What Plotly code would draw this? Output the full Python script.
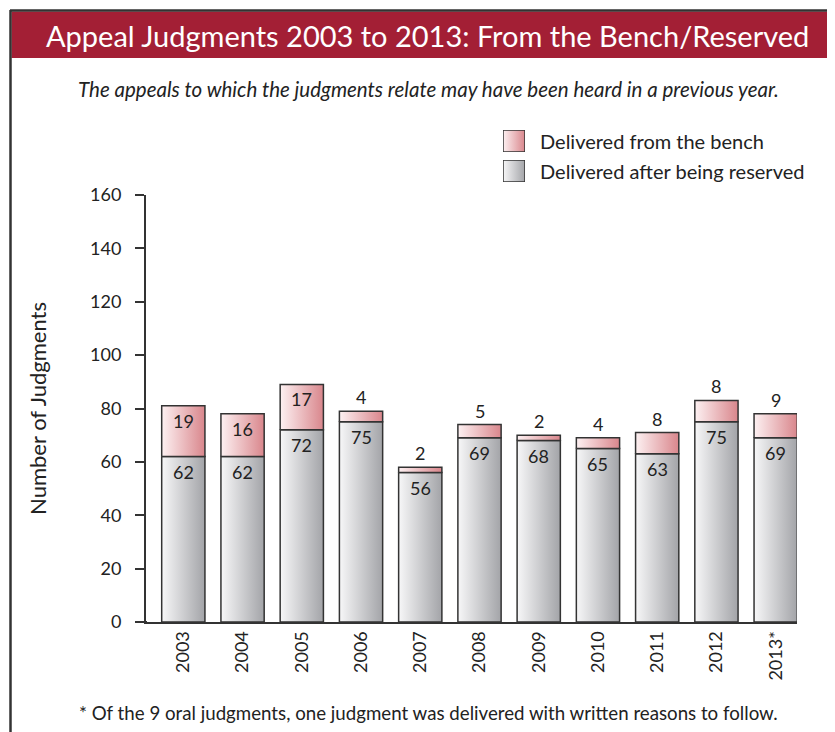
import plotly.graph_objects as go

# data
years = ['2003', '2004', '2005', '2006', '2007', '2008', '2009', '2010', '2011', '2012', '2013*']
reserved = [62, 62, 72, 75, 56, 69, 68, 65, 63, 75, 69]
bench = [19, 16, 17, 4, 2, 5, 2, 4, 8, 8, 9]
y_ticks = [0, 20, 40, 60, 80, 100, 120, 140, 160]

# page body has an 8px margin, so the figure is a bit smaller than the window
OFF = 8
FW, FH = 835 - OFF, 732 - OFF
FONT = 'Lato'
INK = '#222222'
RED = '#a31f35'

pink_scale = [[0, '#fdf1f2'], [1, '#d9868c']]
grey_scale = [[0, '#f7f7f8'], [1, '#a3a4a8']]
bw = 0.73


def fx(x):
    # page pixel -> paper x
    return (x - OFF) / FW


def fy(y):
    # page pixel -> paper y
    return 1 - (y - OFF) / FH


def seg(i, lo, hi, scale):
    xs = [i - bw / 2, i + bw / 2, i + bw / 2, i - bw / 2, i - bw / 2]
    ys = [lo, lo, hi, hi, lo]
    return go.Scatter(x=xs, y=ys, mode='lines', fill='toself',
                      fillgradient=dict(type='horizontal', colorscale=scale),
                      line=dict(color='#333333', width=1.5),
                      showlegend=False, hoverinfo='skip')


fig = go.Figure()
for i in range(len(years)):
    fig.add_trace(seg(i, 0, reserved[i], grey_scale))
    fig.add_trace(seg(i, reserved[i], reserved[i] + bench[i], pink_scale))

# value labels
for i in range(len(years)):
    fig.add_annotation(x=i, y=reserved[i], text=str(reserved[i]), showarrow=False,
                       yshift=-15, font=dict(size=18, color=INK))
    top = reserved[i] + bench[i]
    inside = bench[i] >= 12
    fig.add_annotation(x=i, y=top, text=str(bench[i]), showarrow=False,
                       yshift=-15 if inside else 14, font=dict(size=18, color=INK))

# hand-made legend: gradient swatches on their own little axes
legend_items = [('Delivered from the bench', pink_scale, 130, 152, 'x2', 'y2'),
                ('Delivered after being reserved', grey_scale, 160, 182, 'x3', 'y3')]
for label, scale, top_px, bot_px, xa, ya in legend_items:
    fig.add_trace(go.Scatter(x=[0, 1, 1, 0, 0], y=[0, 0, 1, 1, 0], mode='lines',
                             fill='toself',
                             fillgradient=dict(type='horizontal', colorscale=scale),
                             line=dict(color='#333333', width=1.5),
                             xaxis=xa, yaxis=ya, showlegend=False, hoverinfo='skip'))
    fig.add_annotation(xref='paper', yref='paper', x=fx(538), y=fy((top_px + bot_px) / 2),
                       xanchor='left', yanchor='middle', text=label, showarrow=False,
                       font=dict(size=20, color=INK, family=FONT))

# frame + title bar
fig.add_shape(type='line', xref='paper', yref='paper', x0=fx(10.5), x1=fx(10.5),
              y0=fy(10), y1=fy(740), line=dict(color='#333333', width=2.5))
fig.add_shape(type='line', xref='paper', yref='paper', x0=fx(10), x1=fx(840),
              y0=fy(10.5), y1=fy(10.5), line=dict(color='#333333', width=2.5))
fig.add_shape(type='rect', xref='paper', yref='paper', x0=fx(11.5), x1=fx(840),
              y0=fy(11.5), y1=fy(58), fillcolor=RED, line=dict(width=0), layer='below')
# x axis line runs a little past the y axis
fig.add_shape(type='line', xref='paper', yref='y', x0=fx(139), x1=fx(147), y0=0, y1=0,
              line=dict(color='#333333', width=2))

fig.add_annotation(xref='paper', yref='paper', x=fx(427), y=fy(35),
                   xanchor='center', yanchor='middle',
                   text='Appeal Judgments 2003 to 2013: From the Bench/Reserved',
                   showarrow=False, font=dict(size=29, color='white', family=FONT))
fig.add_annotation(xref='paper', yref='paper', x=fx(428), y=fy(89),
                   xanchor='center', yanchor='middle',
                   text='<i>The appeals to which the judgments relate may have been heard in a previous year.</i>',
                   showarrow=False, font=dict(size=20.5, color=INK, family=FONT))
fig.add_annotation(xref='paper', yref='paper', x=fx(428), y=fy(713),
                   xanchor='center', yanchor='middle',
                   text='* Of the 9 oral judgments, one judgment was delivered with written reasons to follow.',
                   showarrow=False, font=dict(size=18.7, color=INK, family=FONT))

no_axis = dict(range=[0, 1], visible=False, fixedrange=True, automargin=False)
fig.update_layout(
    width=FW, height=FH, autosize=False,
    margin=dict(l=0, r=0, t=0, b=0, autoexpand=False),
    paper_bgcolor='white', plot_bgcolor='white',
    font=dict(family=FONT, color=INK, size=18),
    showlegend=False,
    xaxis=dict(domain=[fx(146), fx(797)], range=[-0.63, 10.36], tickmode='array',
               tickvals=list(range(len(years))), ticktext=years, tickangle=-90,
               showgrid=False, zeroline=False, showline=True, linecolor='#333333',
               linewidth=2, ticks='', tickfont=dict(size=18), automargin=False),
    yaxis=dict(domain=[fy(622), fy(195)], range=[0, 160], tickmode='array',
               tickvals=y_ticks, showgrid=False, zeroline=False, showline=True,
               linecolor='#333333', linewidth=2, ticks='outside', ticklen=9,
               tickwidth=2, tickcolor='#333333', tickfont=dict(size=18),
               ticklabelstandoff=10, automargin=False,
               title=dict(text='Number of Judgments', font=dict(size=22), standoff=37)),
    xaxis2=dict(domain=[fx(503), fx(525)], anchor='y2', **no_axis),
    yaxis2=dict(domain=[fy(152), fy(130)], anchor='x2', **no_axis),
    xaxis3=dict(domain=[fx(503), fx(525)], anchor='y3', **no_axis),
    yaxis3=dict(domain=[fy(182), fy(160)], anchor='x3', **no_axis),
)

fig.write_html('out.html')
